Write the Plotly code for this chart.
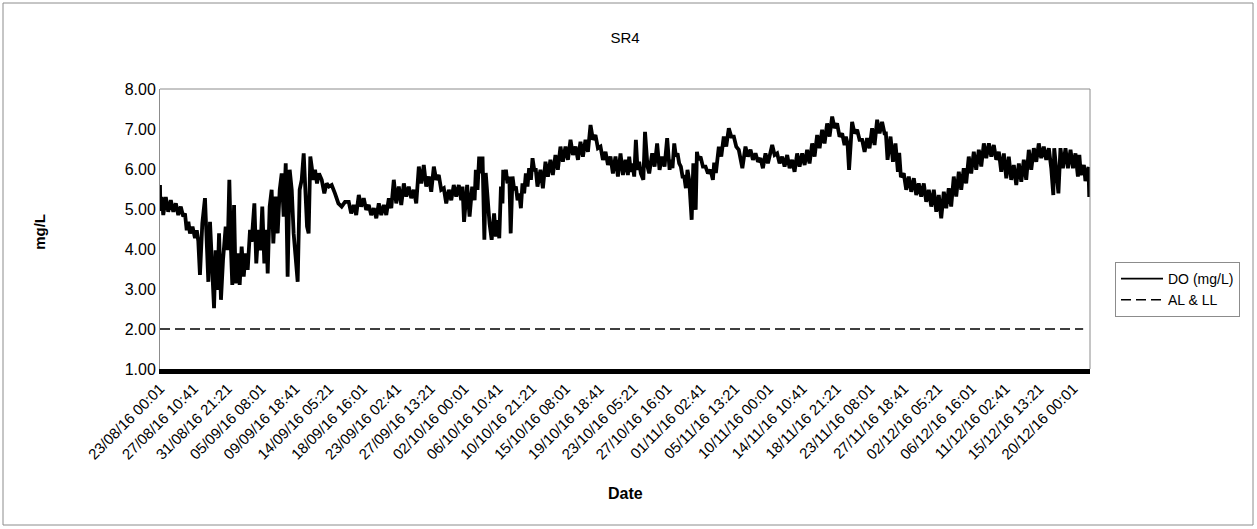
import plotly.graph_objects as go

# ---------------- data ----------------
title_text = "SR4"
series_do_name = "DO (mg/L)"
series_limit_name = "AL & LL"

# category-axis labels (one every 640 ten-minute records)
tick_labels = [
    "23/08/16 00:01", "27/08/16 10:41", "31/08/16 21:21", "05/09/16 08:01",
    "09/09/16 18:41", "14/09/16 05:21", "18/09/16 16:01", "23/09/16 02:41",
    "27/09/16 13:21", "02/10/16 00:01", "06/10/16 10:41", "10/10/16 21:21",
    "15/10/16 08:01", "19/10/16 18:41", "23/10/16 05:21", "27/10/16 16:01",
    "01/11/16 02:41", "05/11/16 13:21", "10/11/16 00:01", "14/11/16 10:41",
    "18/11/16 21:21", "23/11/16 08:01", "27/11/16 18:41", "02/12/16 05:21",
    "06/12/16 16:01", "11/12/16 02:41", "15/12/16 13:21", "20/12/16 00:01",
]
records_per_label = 640
records_per_day = 144

# position along the record (days of 10-minute samples) and DO value (mg/L)
do_days = [
    0.00, 0.05, 0.22, 0.43, 0.76, 1.08, 1.42, 1.75, 2.08, 2.40, 2.73, 3.06, 3.28, 3.51,
    3.73, 3.94, 4.27, 4.60, 4.83, 5.03,
    5.25, 5.56, 5.91, 6.13, 6.35, 6.57, 6.88, 7.10, 7.31, 7.53, 7.76, 8.01, 8.28, 8.63,
    8.89, 9.11, 9.33, 9.50, 9.73, 9.94, 10.21, 10.47, 10.73, 11.00, 11.25, 11.52, 11.83,
    12.04, 12.40, 12.65, 12.92, 13.19, 13.44, 13.71, 13.97, 14.15, 14.41, 14.67, 14.89,
    15.20, 15.46, 15.73, 15.99, 16.25, 16.52, 16.77, 17.04, 17.31, 17.56, 17.83, 18.09,
    18.35, 18.62, 18.88, 19.10, 19.32, 19.53, 19.75, 19.93, 20.14, 20.37, 20.63, 20.89,
    21.25, 21.59, 21.90, 22.20, 22.56, 22.99, 23.44, 23.87, 24.31,
    24.80, 25.12, 25.46, 25.78, 26.12, 26.44, 26.77, 27.09, 27.43, 27.75, 28.10, 28.42,
    28.75, 29.07, 29.41, 29.73, 30.07, 30.39, 30.72, 31.04, 31.38, 31.70, 32.04, 32.36,
    32.69, 33.01, 33.35, 33.67, 34.01, 34.33, 34.66, 34.98, 35.32, 35.64, 35.98, 36.30,
    36.63, 36.95, 37.29, 37.61, 37.95, 38.27, 38.60, 38.92, 39.26, 39.58, 39.75, 39.95,
    40.36, 40.68, 41.02, 41.34, 41.50, 41.72, 41.94, 42.16, 42.38, 42.62, 42.80, 43.00,
    43.30, 43.58, 43.90, 44.14, 44.34, 44.58, 44.80, 45.00, 45.10, 45.20, 45.45, 45.65,
    45.90, 46.08, 46.32, 46.54, 46.76, 46.98, 47.20, 47.42, 47.63, 47.85, 48.07, 48.29,
    48.50, 48.74, 48.95, 49.17, 49.38, 49.60, 49.99, 50.31, 50.65, 50.97, 51.30, 51.62,
    51.96, 52.28, 52.62, 52.94, 53.28, 53.60, 53.94, 54.26, 54.60, 54.92, 55.25, 55.57,
    55.91, 56.23, 56.57, 56.89, 57.22, 57.54, 57.88, 58.20, 58.54, 58.86, 59.19, 59.51,
    59.85, 60.17, 60.51, 60.83, 61.16, 61.48, 61.65, 61.87, 62.09, 62.31, 62.53, 62.75,
    62.96, 63.18, 63.51, 63.73, 64.06, 64.28, 64.67, 64.99, 65.32, 65.64, 65.98, 66.30,
    66.64, 66.96, 67.12, 67.34, 67.57, 67.79, 68.00, 68.22, 68.44, 68.66, 68.88, 69.10,
    69.31, 69.53, 69.86, 70.08, 70.39, 70.55, 70.75, 71.02, 71.34, 71.68, 72.00, 72.33,
    72.65,
    72.82, 73.04, 73.43, 73.75, 74.08, 74.40, 74.74, 75.06, 75.40, 75.72, 76.05, 76.37,
    76.52, 76.93, 77.25, 77.59, 77.91, 78.25, 78.57, 78.90, 79.22, 79.56, 79.88, 80.44,
    80.76, 81.09, 81.41, 81.75, 82.07, 82.41, 82.73, 83.06, 83.38, 83.72, 84.04, 84.38,
    84.70, 85.03, 85.35, 85.69, 86.01, 86.35, 86.67, 87.00, 87.32, 87.66, 87.98, 88.32,
    88.64, 88.97, 89.29, 89.63, 89.95, 90.12, 90.34, 90.54, 90.94, 91.26, 91.60, 91.92,
    92.26, 92.58, 92.91, 93.23, 93.57, 93.89, 94.23, 94.55, 94.88, 95.20, 95.38, 95.60,
    95.99, 96.31, 96.64, 96.96, 97.13, 97.35,
    97.73, 98.05, 98.39, 98.71, 99.05, 99.37, 99.70, 100.02, 100.36, 100.68, 101.02,
    101.34, 101.68, 102.00, 102.33, 102.65, 102.99, 103.31, 103.64, 103.96, 104.30,
    104.62, 104.96, 105.28, 105.61, 105.93, 106.27, 106.59, 106.93, 107.25, 107.59,
    107.91, 108.25, 108.57, 108.91, 109.23, 109.56, 109.88, 110.22, 110.54, 110.88,
    111.20, 111.53, 111.85, 112.19, 112.51, 112.85, 113.17, 113.50, 113.82, 114.16,
    114.48, 114.82, 115.14, 115.47, 115.79, 116.13, 116.45, 116.79, 117.11, 117.38,
    117.50, 117.70, 118.05, 118.32, 118.64, 118.98, 119.30, 119.64, 119.96, 120.29,
    120.61, 120.80, 121.00, 121.40, 121.60, 122.00, 122.10, 122.20,
]
do_values = [
    5.60, 4.95, 5.30, 4.85, 5.30, 4.93, 5.22, 4.93, 5.14, 4.85, 5.06, 4.81, 4.89, 4.47,
    4.68, 4.39, 4.56, 4.27, 4.47, 4.20,
    3.35, 4.64, 5.27, 4.06, 3.18, 4.68, 3.56, 2.52, 3.97, 2.98, 4.39, 2.73, 3.72, 4.56,
    3.97, 5.73, 3.97, 3.10, 5.10, 3.14, 3.89, 3.10, 4.06, 3.31, 3.89, 3.48, 4.48,
    4.18, 5.14, 3.64, 4.48, 3.97, 5.06, 3.64, 4.48, 3.39, 5.06, 5.48, 4.14,
    5.31, 4.39, 5.48, 5.89, 4.81, 6.14, 3.31, 5.98, 5.48, 4.39, 3.64, 3.18,
    5.48, 5.73, 6.39, 5.22, 4.56, 4.39, 6.31, 6.06, 5.73, 5.98, 5.64, 5.89,
    5.73, 5.39, 5.64, 5.56, 5.60, 5.39, 5.14, 5.06, 5.18,
    5.18, 4.89, 5.10, 4.85, 5.35, 5.06, 5.27, 4.98, 5.10, 4.85, 5.02, 4.77,
    5.14, 4.85, 5.10, 4.85, 5.27, 5.02, 5.73, 5.14, 5.56, 5.10, 5.64, 5.31,
    5.56, 5.27, 5.48, 5.14, 6.06, 5.64, 6.10, 5.56, 5.81, 5.43, 6.06, 5.73,
    5.85, 5.48, 5.52, 5.14, 5.48, 5.22, 5.60, 5.31, 5.60, 5.22, 5.56, 4.68,
    5.60, 4.81, 5.56, 5.22, 5.98, 5.48, 6.31, 5.89, 6.31, 4.23, 5.90, 5.31,
    4.64, 4.23, 4.89, 4.31, 4.72, 4.27, 5.56, 5.14, 5.98, 5.73, 5.98, 5.64,
    5.81, 4.39, 5.81, 5.48, 5.56, 5.22, 5.39, 5.02, 5.64, 5.39, 5.89, 5.56,
    6.02, 5.73, 6.27, 5.98, 5.98, 5.56, 5.98, 5.52, 6.18, 5.81, 6.23, 5.85,
    6.35, 5.98, 6.56, 6.18, 6.56, 6.23, 6.73, 6.35, 6.56, 6.23, 6.68, 6.31,
    6.73, 6.43, 7.10, 6.73, 6.85, 6.52, 6.56, 6.23, 6.43, 6.10, 6.31, 5.89,
    6.31, 5.81, 6.39, 5.85, 6.23, 5.85, 6.31, 5.93, 6.14, 5.81, 6.73, 5.98,
    6.18, 5.89, 5.73, 6.93, 6.06, 5.89, 6.39, 6.06, 6.64, 5.98, 6.31, 6.06,
    6.77, 5.98, 6.23, 6.02, 6.64, 6.31, 6.39, 6.14, 6.06, 5.81, 5.81, 5.52,
    5.98, 5.73, 4.73, 6.14, 4.98, 6.43, 6.23, 6.31, 6.06, 6.06, 5.89, 5.98,
    5.73,
    6.16, 5.90, 6.56, 6.31, 6.81, 6.56, 7.02, 6.81, 6.81, 6.56, 6.48, 6.23,
    6.02, 6.56, 6.31, 6.48, 6.23, 6.39, 6.18, 6.27, 6.02, 6.39, 6.14, 6.60,
    6.35, 6.39, 6.14, 6.31, 6.06, 6.35, 6.02, 6.23, 5.93, 6.39, 6.06, 6.39,
    6.10, 6.48, 6.14, 6.64, 6.31, 6.85, 6.52, 6.98, 6.64, 7.14, 6.81, 7.31,
    7.02, 7.14, 6.81, 6.89, 6.60, 6.81, 6.64, 5.98, 7.18, 6.89, 6.98, 6.73,
    6.73, 6.43, 6.77, 6.52, 7.02, 6.60, 7.23, 6.89, 7.18, 6.89, 6.89, 6.23,
    6.81, 6.18, 6.64, 5.93, 6.40, 5.80,
    5.89, 5.48, 5.81, 5.43, 5.77, 5.35, 5.64, 5.31, 5.64, 5.18, 5.48,
    5.06, 5.48, 4.93, 5.35, 4.77, 5.43, 5.02, 5.52, 5.06, 5.81,
    5.31, 5.93, 5.48, 6.02, 5.64, 6.31, 5.89, 6.43, 5.98, 6.48,
    6.06, 6.64, 6.27, 6.64, 6.31, 6.60, 6.23, 6.43, 5.93, 6.39,
    5.77, 6.31, 5.73, 6.10, 5.60, 6.14, 5.68, 6.23, 5.73, 6.48,
    5.98, 6.52, 6.18, 6.64, 6.27, 6.56, 6.23, 6.52, 6.02, 5.35,
    6.52, 6.02, 5.39, 6.52, 6.02, 6.52, 6.02, 6.48, 6.02, 6.39,
    5.81, 6.35, 5.85, 6.10, 5.70, 6.05, 5.30, 5.80,
]

# alert / lower limit
limit_days = [0.0, 121.3]
limit_values = [2.0, 2.0]

y_tick_values = [1, 2, 3, 4, 5, 6, 7, 8]
x_axis_title = "Date"
y_axis_title = "mg/L"

# ---------------- figure ----------------
tick_positions = [i * records_per_label / records_per_day for i in range(len(tick_labels))]

FONT = "Liberation Sans, Arial, sans-serif"
W, H = 1257, 529
L, R, T, B = 160, 167, 89, 160
PW, PH = W - L - R, H - T - B

fig = go.Figure()
fig.add_trace(go.Scatter(
    x=do_days, y=do_values, mode="lines", name=series_do_name, showlegend=False,
    line=dict(color="black", width=3.8), hoverinfo="skip", legendgroup="do",
))
fig.add_trace(go.Scatter(
    x=limit_days, y=limit_values, mode="lines", name=series_limit_name, showlegend=False,
    line=dict(color="black", width=1.5, dash="10px,5px"), legendgroup="al",
))
# legend keys (thin line samples as in the reference legend)
fig.add_trace(go.Scatter(
    x=[None], y=[None], mode="lines", name=series_do_name, legendgroup="do",
    line=dict(color="black", width=1.8),
))
fig.add_trace(go.Scatter(
    x=[None], y=[None], mode="lines", name=series_limit_name, legendgroup="al",
    line=dict(color="black", width=1.5, dash="10px,5px"),
))

fig.update_layout(
    width=W, height=H,
    margin=dict(l=L, r=R, t=T, b=B),
    paper_bgcolor="white", plot_bgcolor="white",
    font=dict(family=FONT, size=16, color="black"),
    title=dict(text=title_text, x=0.5, xref="paper", y=1 - 38 / H, yref="container",
               xanchor="center", yanchor="middle", font=dict(size=15)),
    showlegend=True,
    legend=dict(x=(1115 - L) / PW, y=(H - B - 262) / PH,
                xanchor="left", yanchor="top",
                bordercolor="#8c8c8c", borderwidth=1, bgcolor="white",
                font=dict(size=14), tracegroupgap=0, itemwidth=42),
    xaxis=dict(
        range=[0, 122.2], tickmode="array", tickvals=tick_positions, ticktext=tick_labels,
        tickangle=-45, tickfont=dict(size=15), showgrid=False, zeroline=False,
        showline=True, linecolor="black", linewidth=5, ticks="", automargin=False,
    ),
    yaxis=dict(
        range=[1, 8], tickvals=y_tick_values, tickformat=".2f", tickfont=dict(size=16),
        showgrid=False, zeroline=False, showline=True, linecolor="#8c8c8c", linewidth=1,
        ticks="", automargin=False,
    ),
    shapes=[
        # plot-area frame (top and right)
        dict(type="line", xref="paper", yref="paper", x0=0, x1=1, y0=1, y1=1,
             line=dict(color="#8c8c8c", width=1)),
        dict(type="line", xref="paper", yref="paper", x0=1, x1=1, y0=0, y1=1,
             line=dict(color="#8c8c8c", width=1)),
        # outer chart border
        dict(type="rect", xref="paper", yref="paper",
             x0=(3 - L) / PW, x1=(W - 4 - L) / PW,
             y0=(H - B - (H - 4)) / PH, y1=(H - B - 3) / PH,
             line=dict(color="#8c8c8c", width=1), layer="below"),
    ],
    annotations=[
        dict(text="<b>%s</b>" % y_axis_title, xref="paper", yref="paper",
             x=(40 - L) / PW, y=0.49, textangle=-90, showarrow=False,
             font=dict(size=15), xanchor="center", yanchor="middle"),
        dict(text="<b>%s</b>" % x_axis_title, xref="paper", yref="paper",
             x=0.5, y=(H - B - 493) / PH, showarrow=False,
             font=dict(size=16), xanchor="center", yanchor="middle"),
    ],
)

fig.write_html(
    "out.html",
    config={"displayModeBar": False, "staticPlot": True},
    post_script="document.body.style.margin='0';document.body.style.overflow='hidden';",
)
